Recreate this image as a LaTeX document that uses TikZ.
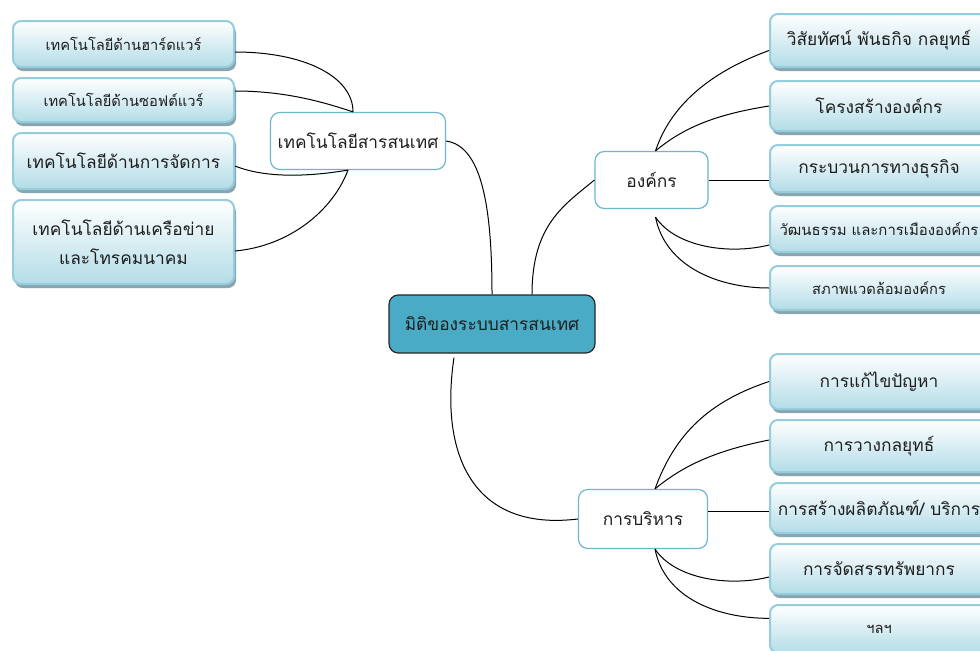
\documentclass[tikz,border=0pt]{standalone}
\usepackage{fontspec}
\newfontfamily\thaifont[Script=Thai]{Loma}
\usetikzlibrary{positioning, shadows}
\definecolor{leafblue}{HTML}{B3DCE7}
\definecolor{leafedge}{HTML}{93CDDE}
\definecolor{leafshadow}{HTML}{8BA5AE}
\definecolor{hubedge}{HTML}{6DB6CC}
\definecolor{rootfill}{HTML}{4AABC6}
\definecolor{inktext}{HTML}{1E1E1E}

\begin{document}
\begin{tikzpicture}[x=0.75pt, y=-0.75pt,
  leaf/.style={draw=leafedge, line width=1.5pt, rounded corners=6pt, top color=white, bottom color=leafblue,
    drop shadow={shadow xshift=1.5pt, shadow yshift=-3pt, fill=leafshadow, opacity=1},
    align=center, text=inktext, inner sep=1pt, font=\thaifont\fontsize{13}{22}\selectfont},
  lleaf/.style={leaf, minimum width=165.75pt},
  rleaf/.style={leaf, minimum width=163.5pt},
  small/.style={font=\thaifont\fontsize{11}{14}\selectfont},
  narrow/.style={font=\thaifont\fontsize{11.2}{14}\selectfont},
  hub/.style={draw=hubedge, line width=0.9pt, fill=white, rounded corners=7pt, text=inktext,
    font=\thaifont\fontsize{13}{16}\selectfont},
  root/.style={draw=black!85, line width=0.9pt, fill=rootfill, rounded corners=7pt, text=inktext,
    font=\thaifont\fontsize{13}{16}\selectfont},
  link/.style={draw=black, line width=0.75pt}
]
\path[use as bounding box, fill=white] (0,0) rectangle (980,650);

% Nodes
\node[root, minimum width=154.5pt, minimum height=43.5pt] (dims) at (492,324) {มิติของระบบสารสนเทศ};
\node[hub, minimum width=131.25pt, minimum height=42.75pt] (it) at (358,141) {เทคโนโลยีสารสนเทศ};
\node[hub, minimum width=84.75pt, minimum height=42.75pt] (org) at (651.5,180) {องค์กร};
\node[hub, minimum width=96.75pt, minimum height=44.25pt] (mgmt) at (643,519) {การบริหาร};

% left side
\node[lleaf, small, minimum height=34.5pt, anchor=north west] (hw) at (12,20) {เทคโนโลยีด้านฮาร์ดแวร์};
\node[lleaf, small, minimum height=33pt, below=6.75pt of hw] (sw) {เทคโนโลยีด้านซอฟต์แวร์};
\node[lleaf, minimum height=42pt, below=6.75pt of sw] (mg) {เทคโนโลยีด้านการจัดการ};
\node[lleaf, minimum height=63pt, below=6.75pt of mg] (net) {เทคโนโลยีด้านเครือข่าย\\และโทรคมนาคม};

% right side, upper
\node[rleaf, minimum height=39.75pt, anchor=north west] (vision) at (769,13) {วิสัยทัศน์ พันธกิจ กลยุทธ์};
\node[rleaf, minimum height=37.5pt, below=9pt of vision] (struct) {โครงสร้างองค์กร};
\node[rleaf, minimum height=35.25pt, below=9pt of struct] (process) {กระบวนการทางธุรกิจ};
\node[rleaf, narrow, minimum height=34.5pt, below=9pt of process] (culture) {วัฒนธรรม และการเมืององค์กร};
\node[rleaf, small, minimum height=33pt, below=9pt of culture] (environ) {สภาพแวดล้อมองค์กร};

% right side, lower
\node[rleaf, minimum height=41.25pt, anchor=north west] (solve) at (769,353) {การแก้ไขปัญหา};
\node[rleaf, minimum height=39pt, below=6.75pt of solve] (strategy) {การวางกลยุทธ์};
\node[rleaf, minimum height=37.5pt, below=6.75pt of strategy] (product) {การสร้างผลิตภัณฑ์/ บริการ};
\node[rleaf, minimum height=37.5pt, below=6.75pt of product] (resource) {การจัดสรรทรัพยากร};
\node[rleaf, small, minimum height=36pt, below=6.75pt of resource] (etc) {ฯลฯ};

% Connections
\draw[link] ([yshift=-6pt]hw.east) .. controls +(70,0) and +(0,-35) .. ([xshift=-3.75pt]it.north);
\draw[link] ([yshift=6.75pt]sw.east) .. controls +(50,0) and +(-30,-10) .. ([xshift=-3.75pt]it.north);
\draw[link] ([yshift=-3.75pt]mg.east) .. controls +(35,14) and +(-30,5) .. ([xshift=-7.5pt]it.south);
\draw[link] ([yshift=-6.75pt]net.east) .. controls +(55,-5) and +(-15,40) .. ([xshift=-7.5pt]it.south);

\draw[link] (it.east) .. controls +(35,5) and +(0,-90) .. (dims.north);
\draw[link] ([xshift=30pt]dims.north) .. controls +(0,-70) and +(-30,25) .. (org.west);
\draw[link] ([xshift=-28.5pt, yshift=-3pt]dims.south) .. controls +(-14,93) and +(-108,13) .. (mgmt.west);

\draw[link] ([xshift=3pt]org.north) .. controls +(15,-45) and +(-60,22) .. ([yshift=-7.5pt]vision.west);
\draw[link] ([xshift=3pt]org.north) .. controls +(30,-25) and +(-50,8) .. (struct.west);
\draw[link] (org.east) -- (org.east -| process.west);
\draw[link] ([xshift=3pt, yshift=-6pt]org.south) .. controls +(20,30) and +(-40,10) .. ([yshift=-12pt]culture.west);
\draw[link] ([xshift=3pt, yshift=-6pt]org.south) .. controls +(10,50) and +(-50,0) .. (environ.west);

\draw[link] ([xshift=9pt]mgmt.north) .. controls +(20,-55) and +(-60,20) .. (solve.west);
\draw[link] ([xshift=9pt]mgmt.north) .. controls +(30,-25) and +(-50,10) .. ([yshift=4.5pt]strategy.west);
\draw[link] ([yshift=6pt]mgmt.east) -- ([yshift=6pt]mgmt.east -| product.west);
\draw[link] ([xshift=9pt]mgmt.south) .. controls +(20,30) and +(-40,10) .. ([yshift=-6pt]resource.west);
\draw[link] ([xshift=9pt]mgmt.south) .. controls +(10,50) and +(-50,0) .. ([yshift=8pt]etc.west);

\end{tikzpicture}
\end{document}
